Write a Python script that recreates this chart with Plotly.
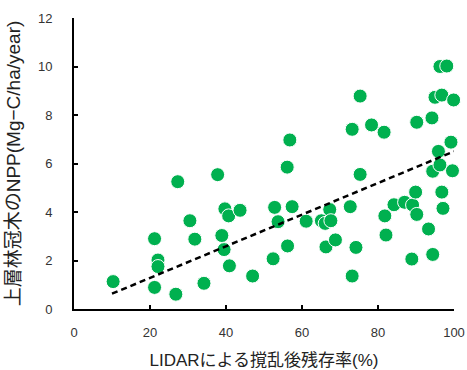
import plotly.graph_objects as go

x_survival = [10.3, 21.2, 22.1, 22.1, 21.2, 26.8, 27.3, 30.5, 31.8, 34.2,
              37.8, 39.7, 40.7, 43.7, 38.9, 39.5, 40.9, 47.0, 52.4, 52.8,
              53.7, 56.1, 56.8, 57.4, 56.2, 61.1, 65.1, 66.1, 67.3, 67.6,
              66.3, 68.8, 72.7, 74.2, 73.2, 75.3, 73.2, 75.3, 78.3, 81.6,
              81.8, 82.1, 84.2, 87.0, 89.1, 89.9, 90.2, 88.9, 90.2, 93.3,
              94.4, 94.2, 94.4, 96.3, 95.9, 96.8, 97.1, 99.6, 99.2, 95.0,
              96.8, 99.9, 96.3, 98.1]
y_npp = [1.13, 2.90, 2.02, 1.75, 0.89, 0.61, 5.25, 3.64, 2.88, 1.06,
         5.54, 4.13, 3.84, 4.07, 3.03, 2.45, 1.78, 1.36, 2.07, 4.19,
         3.60, 5.85, 6.97, 4.22, 2.60, 3.62, 3.64, 3.53, 4.10, 3.64,
         2.56, 2.85, 4.22, 2.54, 1.36, 5.55, 7.41, 8.78, 7.59, 7.29,
         3.84, 3.05, 4.30, 4.40, 4.29, 4.82, 3.90, 2.06, 7.70, 3.30,
         2.25, 7.88, 5.68, 5.94, 6.50, 4.82, 4.15, 5.70, 6.88, 8.73,
         8.82, 8.62, 10.0, 10.02]

trend_x = [10, 100]
trend_y = [0.63, 6.5]

x_ticks = [0, 20, 40, 60, 80, 100]
y_ticks = [0, 2, 4, 6, 8, 10, 12]

font_family = "Liberation Sans, Arial, Noto Sans CJK JP, sans-serif"

fig = go.Figure()
fig.add_trace(go.Scatter(
    x=x_survival, y=y_npp, mode="markers", cliponaxis=False,
    marker=dict(size=14, color="#00b04f", line=dict(color="white", width=1)),
    showlegend=False, hoverinfo="skip"))
fig.add_trace(go.Scatter(
    x=trend_x, y=trend_y, mode="lines", cliponaxis=False,
    line=dict(color="black", width=2.5, dash="6px,4px"),
    showlegend=False, hoverinfo="skip"))

fig.update_layout(
    template="none",
    width=467, height=370,
    margin=dict(l=74, r=13, t=18, b=61, pad=0),
    paper_bgcolor="white", plot_bgcolor="white",
    font=dict(family=font_family, size=13, color="#333333"),
)
fig.update_xaxes(
    range=[0, 100], tickvals=x_ticks, showgrid=False, zeroline=False,
    automargin=False,
    showline=True, linecolor="black", linewidth=2,
    ticks="inside", ticklen=4, tickwidth=2, tickcolor="black",
    ticklabelstandoff=10,
    title=dict(text="LIDARによる撹乱後残存率(%)", font=dict(size=17, color="#222222"), standoff=16),
)
fig.update_yaxes(
    range=[0, 12], tickvals=y_ticks, showgrid=False, zeroline=False,
    automargin=False,
    showline=True, linecolor="black", linewidth=2,
    ticks="inside", ticklen=4, tickwidth=2, tickcolor="black",
    ticklabelstandoff=17,
    title=dict(text="上層林冠木のNPP(Mg−C/ha/year)", font=dict(size=19, color="#222222"), standoff=12),
)

fig.write_html("out.html")
